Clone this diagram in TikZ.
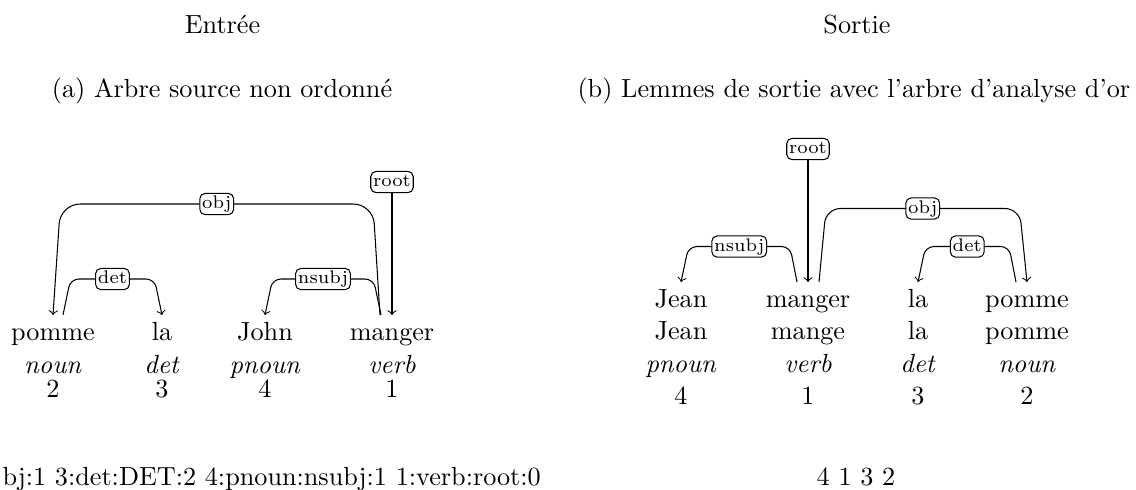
\documentclass[tikz,border=0pt]{standalone}
\usepackage{fontspec}
\usetikzlibrary{calc}
\begin{document}
\begin{tikzpicture}[x=0.38168pt, y=-0.38168pt,
  word/.style={anchor=base, text height=7pt, text depth=2pt, inner xsep=0pt, inner ysep=2.35pt},
  txt/.style={anchor=base, inner sep=0pt},
  lab/.style={draw, fill=white, rounded corners=2pt, font=\scriptsize, inner xsep=0.9pt, inner ysep=0.9pt, text height=4.9pt, text depth=1.4pt},
  dep/.style={->},
  bigarc/.style={dep, rounded corners=7.5pt},
  midarc/.style={dep, rounded corners=5.5pt},
  smallarc/.style={dep, rounded corners=3.2pt}
]
\useasboundingbox (0,0) rectangle (1136,489);

% titles and captions
\node[txt] (tin) at (222.5,33) {Entrée};
\node[txt] (tout) at (857,33) {Sortie};
\node[txt] (capa) at (222,97) {(a) Arbre source non ordonné};
\node[txt, anchor=base west] (capb) at (577,97) {(b) Lemmes de sortie avec l'arbre d'analyse d'or};
\node[txt, anchor=base west] (seqa) at (2,485) {bj:1 3:det:DET:2 4:pnoun:nsubj:1 1:verb:root:0};
\node[txt] (seqb) at (856,485) {4 1 3 2};

% left tree
\node[word] (pA) at (53,340) {pomme};
\node[word] (lA) at (162,340) {la};
\node[word] (jA) at (265,340) {John};
\node[word] (mA) at (392,340) {manger};
\node[txt] (pApos) at (53,373) {\textit{noun}};
\node[txt] (lApos) at (162,373) {\textit{det}};
\node[txt] (jApos) at (265,373) {\textit{pnoun}};
\node[txt] (mApos) at (392,373) {\textit{verb}};
\node[txt] (pAnum) at (53,397.5) {2};
\node[txt] (lAnum) at (162,397.5) {3};
\node[txt] (jAnum) at (265,397.5) {4};
\node[txt] (mAnum) at (392,397.5) {1};

\coordinate (hA1) at (0,204);
\coordinate (hA2) at (0,279);

\draw[bigarc] ($(mA.north)+(-12,0)$) -- ($(mA.north |- hA1)+(-19,0)$)
  -- node[lab] (objA) {obj} ($(pA.north |- hA1)+(7.5,0)$) -- (pA.north);
\draw[smallarc] ($(pA.north)+(10,0)$) -- ($(pA.north |- hA2)+(17.5,0)$)
  -- node[lab] (detA) {det} ($(lA.north |- hA2)+(-7.5,0)$) -- (lA.north);
\draw[smallarc] ($(mA.north)+(-11,0)$) -- ($(mA.north |- hA2)+(-18.5,0)$)
  -- node[lab] (nsubjA) {nsubj} ($(jA.north |- hA2)+(7.5,0)$) -- (jA.north);
\node[lab] (rootA) at (392,182) {root};
\draw[dep] (rootA.south) -- (mA.north);

% right tree
\node[word] (jB) at (681,307) {Jean};
\node[word] (mB) at (808,307) {manger};
\node[word] (lB) at (918,307) {la};
\node[word] (pB) at (1027,307) {pomme};
\node[txt] (jBlem) at (681,339.5) {Jean};
\node[txt] (mBlem) at (808,339.5) {mange};
\node[txt] (lBlem) at (918,339.5) {la};
\node[txt] (pBlem) at (1027,339.5) {pomme};
\node[txt] (jBpos) at (681,372) {\textit{pnoun}};
\node[txt] (mBpos) at (808,372) {\textit{verb}};
\node[txt] (lBpos) at (918,372) {\textit{det}};
\node[txt] (pBpos) at (1027,372) {\textit{noun}};
\node[txt] (jBnum) at (681,404.5) {4};
\node[txt] (mBnum) at (808,404.5) {1};
\node[txt] (lBnum) at (918,404.5) {3};
\node[txt] (pBnum) at (1027,404.5) {2};

\coordinate (hB1) at (0,208.5);
\coordinate (hB2) at (0,246.5);

\draw[smallarc] ($(mB.north)+(-11,0)$) -- ($(mB.north |- hB2)+(-18,0)$)
  -- node[lab] (nsubjB) {nsubj} ($(jB.north |- hB2)+(7.5,0)$) -- (jB.north);
\draw[midarc] ($(mB.north)+(11,0)$) -- ($(mB.north |- hB1)+(18,0)$)
  -- node[lab] (objB) {obj} ($(pB.north |- hB1)+(-7.5,0)$) -- (pB.north);
\draw[smallarc] ($(pB.north)+(-11,0)$) -- ($(pB.north |- hB2)+(-18,0)$)
  -- node[lab] (detB) {det} ($(lB.north |- hB2)+(7.5,0)$) -- (lB.north);
\node[lab] (rootB) at (808,149) {root};
\draw[dep] (rootB.south) -- (mB.north);
\end{tikzpicture}
\end{document}
